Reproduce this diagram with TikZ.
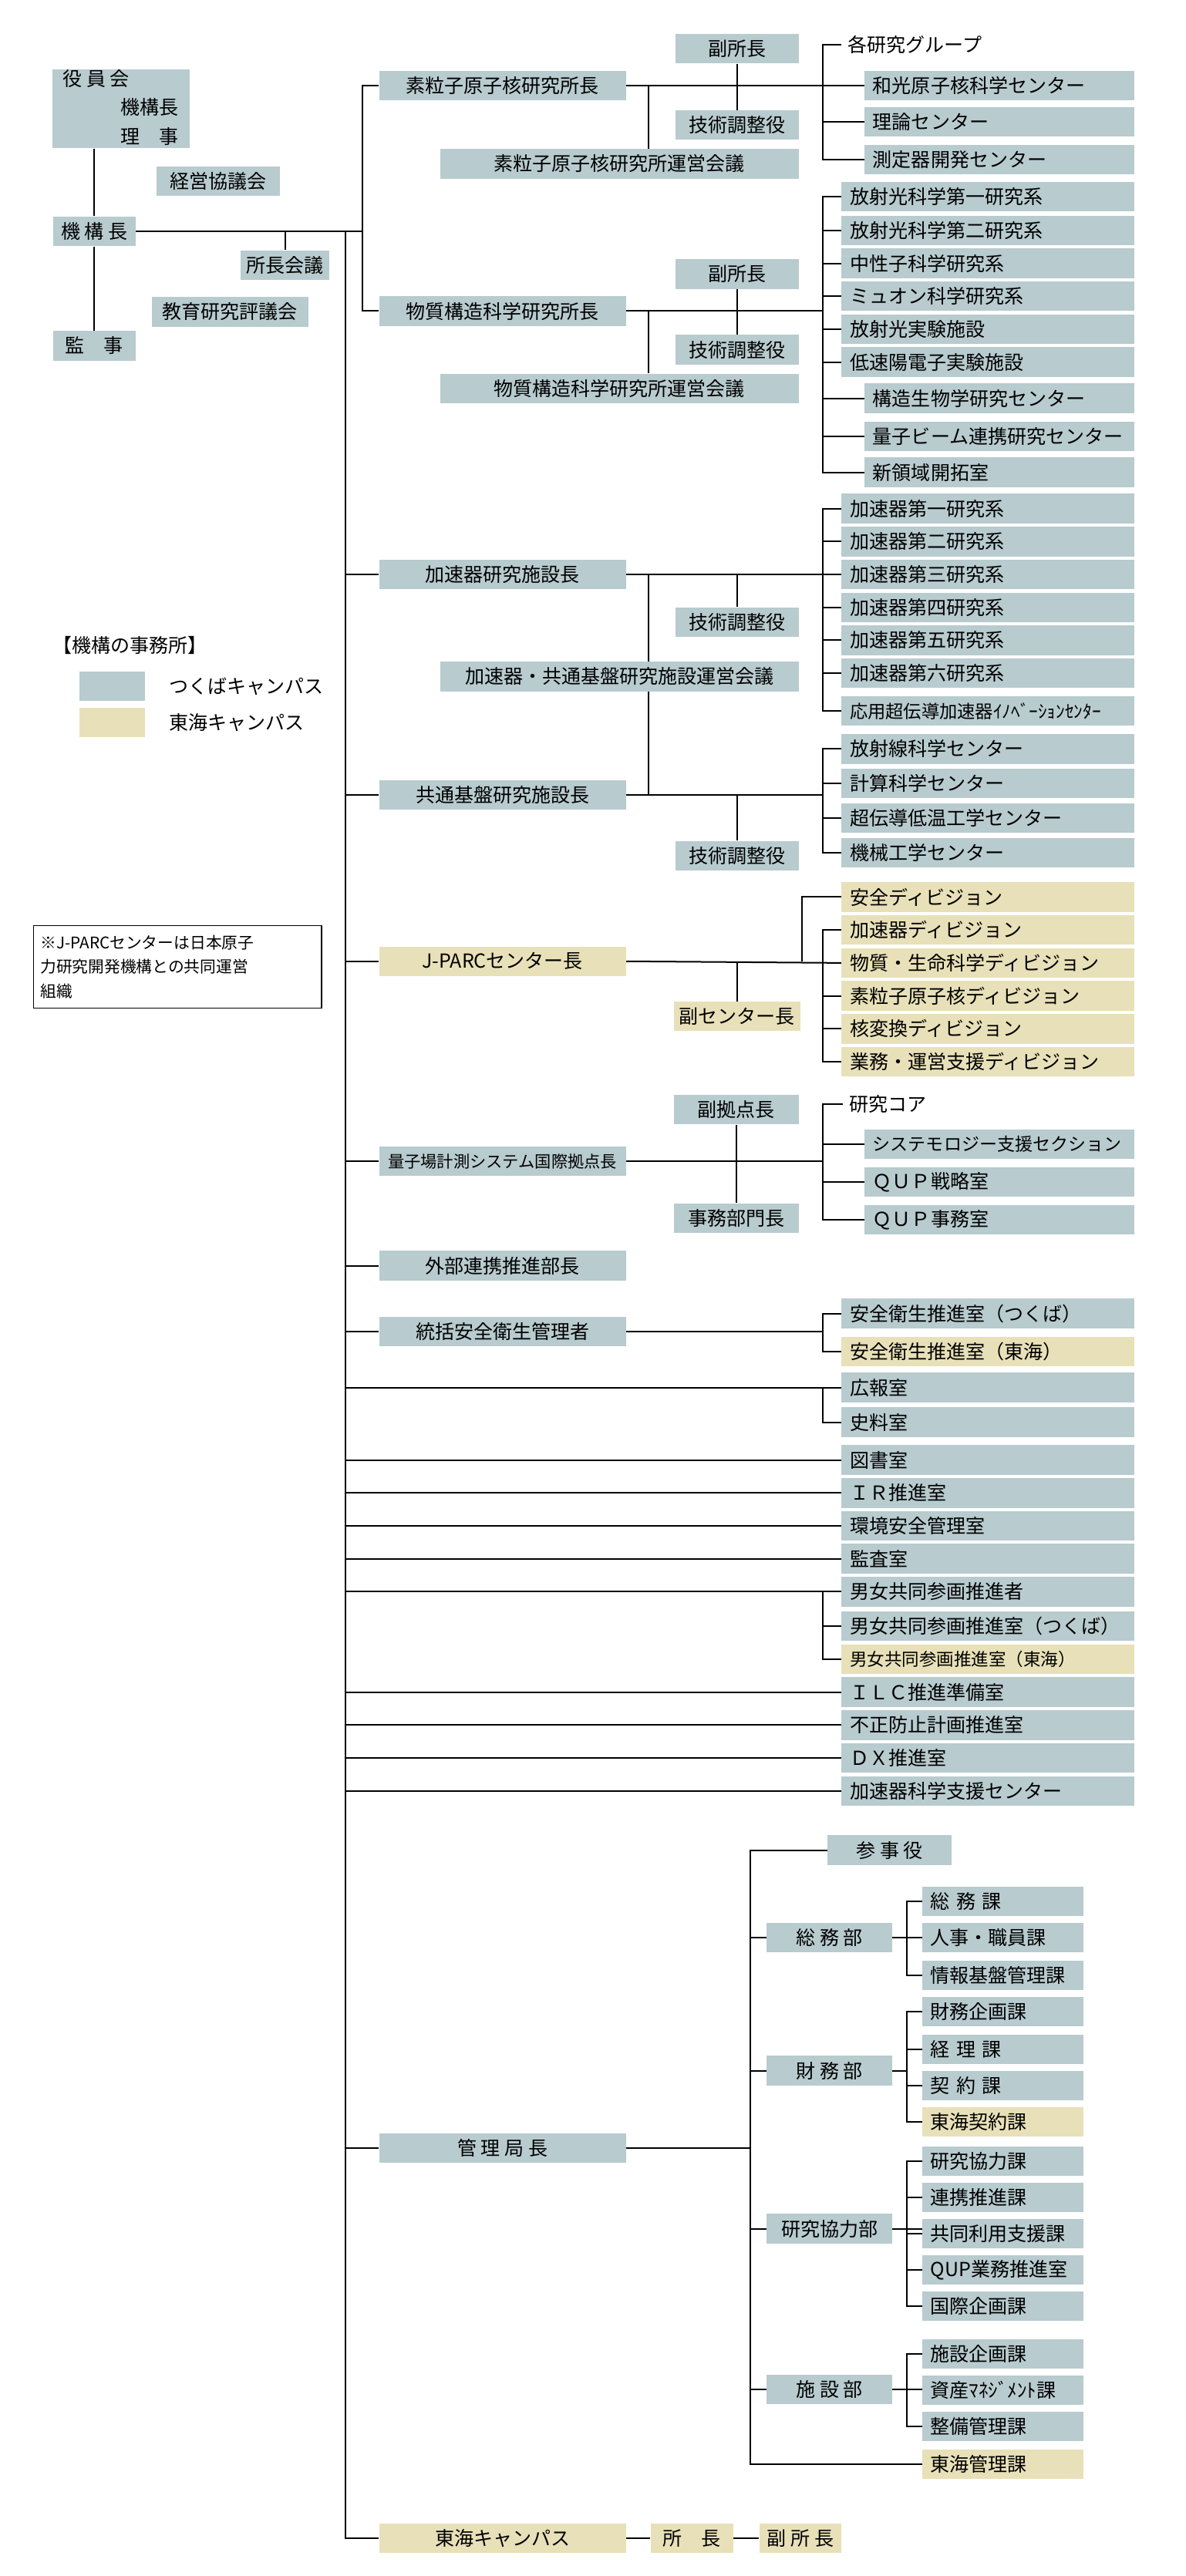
\documentclass[tikz,border=0pt]{standalone}
\usepackage{fontspec}
\setmainfont{Noto Sans CJK JP}
\usetikzlibrary{positioning, backgrounds}
\definecolor{kblue}{HTML}{B8CBCF}
\definecolor{kbeige}{HTML}{E8E0B8}

\tikzset{
  base/.style={inner ysep=0pt, minimum height=5.4mm, font=\fontsize{10}{12}\selectfont},
  head/.style={base, fill=kblue, minimum width=45mm, inner xsep=1mm, anchor=west},
  sub/.style={base, fill=kblue, minimum width=22.5mm, inner xsep=1mm, anchor=west},
  item/.style={base, fill=kblue, anchor=west, inner xsep=1.5mm, text width=#1, align=left},
  item/.default=50.4mm,
  tokai/.style={fill=kbeige},
  link/.style={line width=0.8pt},
}

\begin{document}
\begin{tikzpicture}[x=0.3mm, y=-0.3mm]
  \useasboundingbox (0,0) rectangle (720,1565);

  % Top left: board, president, auditors
  \node[fill=kblue, minimum width=24.9mm, minimum height=14.4mm] (board) at (73.5,66) {};
  \node[base, anchor=west] (boardA) at (34,48) {役 員 会};
  \node[base, anchor=west] (boardB) at (69,65) {機構長};
  \node[base, anchor=west] (boardC) at (69,83) {理　事};
  \node[sub, minimum width=22.5mm] (keiei) at (95,110) {経営協議会};
  \node[sub, minimum width=15mm] (kikou) at (32,140.5) {機 構 長};
  \node[sub, minimum width=16.2mm] (shocho) at (146,161) {所長会議};
  \node[sub, minimum width=28.5mm] (kyoiku) at (92,189.5) {教育研究評議会};
  \node[sub, minimum width=15mm] (kansa) at (32,210) {監　事};

  \coordinate (trunk) at (210,140.5);
  \coordinate (brk) at (220,140.5);

  % Institute of Particle and Nuclear Studies
  \node[head] (hA) at (230,52) {素粒子原子核研究所長};
  \node[sub] (vA) at (410,29.5) {副所長};
  \node[sub] (tA) at (410,76) {技術調整役};
  \node[head, minimum width=65.4mm] (mA) at (267,99.5) {素粒子原子核研究所運営会議};
  \node[base, anchor=west] (A0) at (511,27) {各研究グループ};
  \node[item=46.2mm] (A1) at (525,52) {和光原子核科学センター};
  \node[item=46.2mm] (A2) at (525,74) {理論センター};
  \node[item=46.2mm] (A3) at (525,97) {測定器開発センター};
  \coordinate (busA) at (500,52);

  % Institute of Materials Structure Science
  \node[head] (hB) at (230,189) {物質構造科学研究所長};
  \node[sub] (vB) at (410,166.5) {副所長};
  \node[sub] (tB) at (410,212.5) {技術調整役};
  \node[head, minimum width=65.4mm] (mB) at (267,236) {物質構造科学研究所運営会議};
  \node[item] (B1) at (511,119.5) {放射光科学第一研究系};
  \node[item] (B2) at (511,140) {放射光科学第二研究系};
  \node[item] (B3) at (511,160) {中性子科学研究系};
  \node[item] (B4) at (511,180) {ミュオン科学研究系};
  \node[item] (B5) at (511,200) {放射光実験施設};
  \node[item] (B6) at (511,220) {低速陽電子実験施設};
  \node[item=46.2mm] (B7) at (525,242) {構造生物学研究センター};
  \node[item=46.2mm] (B8) at (525,265) {量子ビーム連携研究センター};
  \node[item=46.2mm] (B9) at (525,287) {新領域開拓室};
  \coordinate (busB) at (500,189);

  % Accelerator Laboratory and Applied Research Laboratory
  \node[head] (hC) at (230,349) {加速器研究施設長};
  \node[sub] (tC) at (410,378) {技術調整役};
  \node[head, minimum width=65.4mm] (mC) at (267,411) {加速器・共通基盤研究施設運営会議};
  \node[item] (C1) at (511,309) {加速器第一研究系};
  \node[item] (C2) at (511,329) {加速器第二研究系};
  \node[item] (C3) at (511,349) {加速器第三研究系};
  \node[item] (C4) at (511,369) {加速器第四研究系};
  \node[item] (C5) at (511,389) {加速器第五研究系};
  \node[item] (C6) at (511,409) {加速器第六研究系};
  \node[item, font=\fontsize{9.3}{11}\selectfont] (C7) at (511,432) {応用超伝導加速器ｲﾉﾍﾞｰｼｮﾝｾﾝﾀｰ};
  \node[head] (hD) at (230,483) {共通基盤研究施設長};
  \node[sub] (tD) at (410,520) {技術調整役};
  \node[item] (D1) at (511,455) {放射線科学センター};
  \node[item] (D2) at (511,476) {計算科学センター};
  \node[item] (D3) at (511,497) {超伝導低温工学センター};
  \node[item] (D4) at (511,518) {機械工学センター};
  \coordinate (busC) at (500,349);
  \coordinate (colC) at (394,349);
  \coordinate (colD) at (394,483);
  \coordinate (busD) at (500,483);

  % J-PARC
  \node[head, tokai] (hE) at (230,584) {J-PARCセンター長};
  \node[sub, tokai, minimum width=22.8mm] (vE) at (409,617.5) {副センター長};
  \node[item, tokai] (E1) at (511,545) {安全ディビジョン};
  \node[item, tokai] (E2) at (511,565) {加速器ディビジョン};
  \node[item, tokai] (E3) at (511,585) {物質・生命科学ディビジョン};
  \node[item, tokai] (E4) at (511,605) {素粒子原子核ディビジョン};
  \node[item, tokai] (E5) at (511,625) {核変換ディビジョン};
  \node[item, tokai] (E6) at (511,645) {業務・運営支援ディビジョン};
  \coordinate (jE) at (487,584);
  \coordinate (busE) at (500,584);

  % QUP
  \node[head, font=\fontsize{8.5}{10}\selectfont] (hF) at (230,705.5) {量子場計測システム国際拠点長};
  \node[sub, minimum width=22.8mm] (vF) at (409,674) {副拠点長};
  \node[sub, minimum width=22.8mm] (oF) at (409,740) {事務部門長};
  \node[base, anchor=west] (F0) at (512,671) {研究コア};
  \node[item=46.2mm, font=\fontsize{9.2}{11}\selectfont] (F1) at (525,695) {システモロジー支援セクション};
  \node[item=46.2mm] (F2) at (525,718) {ＱＵＰ戦略室};
  \node[item=46.2mm] (F3) at (525,741) {ＱＵＰ事務室};
  \coordinate (busF) at (500,705.5);

  % Other offices
  \node[head] (hG) at (230,769) {外部連携推進部長};
  \node[head] (hH) at (230,809) {統括安全衛生管理者};
  \node[item] (H1) at (511,798) {安全衛生推進室（つくば）};
  \node[item, tokai] (H2) at (511,821) {安全衛生推進室（東海）};
  \coordinate (busH) at (500,809);
  \node[item] (K1) at (511,843) {広報室};
  \node[item] (K2) at (511,864) {史料室};
  \node[item] (L1) at (511,887) {図書室};
  \node[item] (L2) at (511,907) {ＩＲ推進室};
  \node[item] (L3) at (511,927) {環境安全管理室};
  \node[item] (L4) at (511,947) {監査室};
  \node[item] (M1) at (511,967) {男女共同参画推進者};
  \node[item] (M2) at (511,988) {男女共同参画推進室（つくば）};
  \node[item, tokai, font=\fontsize{9}{11}\selectfont] (M3) at (511,1008) {男女共同参画推進室（東海）};
  \node[item] (N1) at (511,1028) {ＩＬＣ推進準備室};
  \node[item] (N2) at (511,1048) {不正防止計画推進室};
  \node[item] (N3) at (511,1068) {ＤＸ推進室};
  \node[item] (N4) at (511,1088) {加速器科学支援センター};

  % Administration Bureau
  \node[head] (hZ) at (230,1305) {管 理 局 長};
  \node[sub] (sanji) at (502.6,1124) {参 事 役};
  \node[sub, minimum width=22.8mm] (Z1) at (465.6,1177) {総 務 部};
  \node[sub, minimum width=22.8mm] (Z2) at (465.6,1258) {財 務 部};
  \node[sub, minimum width=22.8mm] (Z3) at (465.6,1354) {研究協力部};
  \node[sub, minimum width=22.8mm] (Z4) at (465.6,1451.5) {施 設 部};
  \node[item=26.4mm] (Z11) at (560,1155) {総 務 課};
  \node[item=26.4mm] (Z12) at (560,1177) {人事・職員課};
  \node[item=26.4mm] (Z13) at (560,1200) {情報基盤管理課};
  \node[item=26.4mm] (Z21) at (560,1222) {財務企画課};
  \node[item=26.4mm] (Z22) at (560,1245) {経 理 課};
  \node[item=26.4mm] (Z23) at (560,1267) {契 約 課};
  \node[item=26.4mm, tokai] (Z24) at (560,1289) {東海契約課};
  \node[item=26.4mm] (Z31) at (560,1313) {研究協力課};
  \node[item=26.4mm] (Z32) at (560,1335) {連携推進課};
  \node[item=26.4mm] (Z33) at (560,1357) {共同利用支援課};
  \node[item=26.4mm] (Z34) at (560,1379) {QUP業務推進室};
  \node[item=26.4mm] (Z35) at (560,1401) {国際企画課};
  \node[item=26.4mm] (Z41) at (560,1430) {施設企画課};
  \node[item=26.4mm] (Z42) at (560,1452) {資産ﾏﾈｼﾞﾒﾝﾄ課};
  \node[item=26.4mm] (Z43) at (560,1474) {整備管理課};
  \node[item=26.4mm, tokai] (Z5) at (560,1497) {東海管理課};
  \coordinate (busZ) at (456,1305);

  % Tokai campus
  \node[head, tokai] (hT) at (230,1542) {東海キャンパス};
  \node[sub, tokai, minimum width=15mm] (sT) at (395,1542) {所　長};
  \node[sub, tokai, minimum width=15mm] (fT) at (461,1542) {副 所 長};

  % Legend and note
  \node[base, anchor=west] (legT) at (28,392) {【機構の事務所】};
  \node[fill=kblue, minimum width=12mm, minimum height=5.4mm, anchor=west] (swB) at (48,417) {};
  \node[base, right=3mm of swB] (swBt) {つくばキャンパス};
  \node[fill=kbeige, minimum width=12mm, minimum height=5.4mm, anchor=west] (swT) at (48,439) {};
  \node[base, right=3mm of swT] (swTt) {東海キャンパス};
  \node[draw, line width=0.6pt, anchor=north west, minimum width=52.5mm, minimum height=15mm,
        text width=50mm, inner xsep=1.2mm, align=left, font=\fontsize{8.3}{12.6}\selectfont] (note) at (20,562)
        {※J-PARCセンターは日本原子\\力研究開発機構との共同運営\\組織};

  \begin{pgfonlayer}{background}
    % top left
    \draw[link] (board.south -| kikou.north) -- (kikou.north);
    \draw[link] (kikou.south) -- (kansa.north);
    \draw[link] (kikou.east) -- (brk);
    \draw[link] (shocho.north) -- (shocho.north |- kikou.east);
    \draw[link] (trunk) -- (trunk |- hT.west) -- (hT.west);
    \draw[link] (hA.west) -- (hA.west -| brk) -- (hB.west -| brk) -- (hB.west);

    % block A
    \draw[link] (hA.east) -- (busA);
    \draw[link] (vA.south) -- (tA.north);
    \draw[link] ([xshift=38.1mm]mA.north west) -- ([xshift=38.1mm]mA.north west |- hA.east);
    \draw[link] (A0.west) -- (A0.west -| busA) -- (A3.west -| busA) -- (A3.west);
    \draw[link] (A1.west) -- (A1.west -| busA);
    \draw[link] (A2.west) -- (A2.west -| busA);

    % block B
    \draw[link] (hB.east) -- (busB);
    \draw[link] (vB.south) -- (tB.north);
    \draw[link] ([xshift=38.1mm]mB.north west) -- ([xshift=38.1mm]mB.north west |- hB.east);
    \draw[link] (B1.west) -- (B1.west -| busB) -- (B9.west -| busB) -- (B9.west);
    \foreach \n in {B2,B3,B4,B5,B6,B7,B8}
      \draw[link] (\n.west) -- (\n.west -| busB);

    % blocks C and D
    \draw[link] (hC.east) -- (busC);
    \draw[link] (tC.north) -- (tC.north |- hC.east);
    \draw[link] (colC) -- (colD);
    \draw[link] (C1.west) -- (C1.west -| busC) -- (C7.west -| busC) -- (C7.west);
    \foreach \n in {C2,C3,C4,C5,C6}
      \draw[link] (\n.west) -- (\n.west -| busC);
    \draw[link] (trunk |- hC.west) -- (hC.west);
    \draw[link] (trunk |- hD.west) -- (hD.west);
    \draw[link] (hD.east) -- (busD);
    \draw[link] (tD.north) -- (tD.north |- hD.east);
    \draw[link] (D1.west) -- (D1.west -| busD) -- (D4.west -| busD) -- (D4.west);
    \foreach \n in {D2,D3}
      \draw[link] (\n.west) -- (\n.west -| busD);

    % J-PARC
    \draw[link] (trunk |- hE.west) -- (hE.west);
    \draw[link] (hE.east) -- (E3.west);
    \draw[link] (vE.north) -- (vE.north |- hE.east);
    \draw[link] (E1.west) -- (E1.west -| jE) -- (jE);
    \draw[link] (E2.west) -- (E2.west -| busE) -- (E6.west -| busE) -- (E6.west);
    \foreach \n in {E4,E5}
      \draw[link] (\n.west) -- (\n.west -| busE);

    % QUP
    \draw[link] (trunk |- hF.west) -- (hF.west);
    \draw[link] (hF.east) -- (busF);
    \draw[link] (vF.south) -- (oF.north);
    \draw[link] (F0.west) -- (F0.west -| busF) -- (F3.west -| busF) -- (F3.west);
    \foreach \n in {F1,F2}
      \draw[link] (\n.west) -- (\n.west -| busF);

    % other offices
    \draw[link] (trunk |- hG.west) -- (hG.west);
    \draw[link] (trunk |- hH.west) -- (hH.west);
    \draw[link] (hH.east) -- (busH);
    \draw[link] (H1.west) -- (H1.west -| busH) -- (H2.west -| busH) -- (H2.west);
    \draw[link] (trunk |- K1.west) -- (K1.west);
    \draw[link] (K1.west -| busH) -- (K2.west -| busH) -- (K2.west);
    \foreach \n in {L1,L2,L3,L4,M1,N1,N2,N3,N4}
      \draw[link] (trunk |- \n.west) -- (\n.west);
    \draw[link] (M1.west -| busH) -- (M3.west -| busH) -- (M3.west);
    \draw[link] (M2.west) -- (M2.west -| busH);

    % administration bureau
    \draw[link] (trunk |- hZ.west) -- (hZ.west);
    \draw[link] (hZ.east) -- (busZ);
    \draw[link] (sanji.west) -- (sanji.west -| busZ) -- (Z5.west -| busZ) -- (Z5.west);
    \foreach \n in {Z1,Z2,Z3,Z4}
      \draw[link] (\n.west) -- (\n.west -| busZ);
    \draw[link] (Z1.east) -- ([xshift=-2.7mm]Z1.east -| Z11.west);
    \draw[link] (Z11.west) -- ++(-9,0) |- (Z13.west);
    \draw[link] (Z12.west) -- ++(-9,0);
    \draw[link] (Z2.east) -- ([xshift=-2.7mm]Z2.east -| Z21.west);
    \draw[link] (Z21.west) -- ++(-9,0) |- (Z24.west);
    \foreach \n in {Z22,Z23} \draw[link] (\n.west) -- ++(-9,0);
    \draw[link] (Z3.east) -- (Z3.east -| Z31.west);
    \draw[link] (Z31.west) -- ++(-9,0) |- (Z35.west);
    \foreach \n in {Z32,Z33,Z34} \draw[link] (\n.west) -- ++(-9,0);
    \draw[link] (Z4.east) -- (Z4.east -| Z41.west);
    \draw[link] (Z41.west) -- ++(-9,0) |- (Z43.west);

    % Tokai campus
    \draw[link] (hT.east) -- (sT.west);
    \draw[link] (sT.east) -- (fT.west);
  \end{pgfonlayer}
\end{tikzpicture}
\end{document}
